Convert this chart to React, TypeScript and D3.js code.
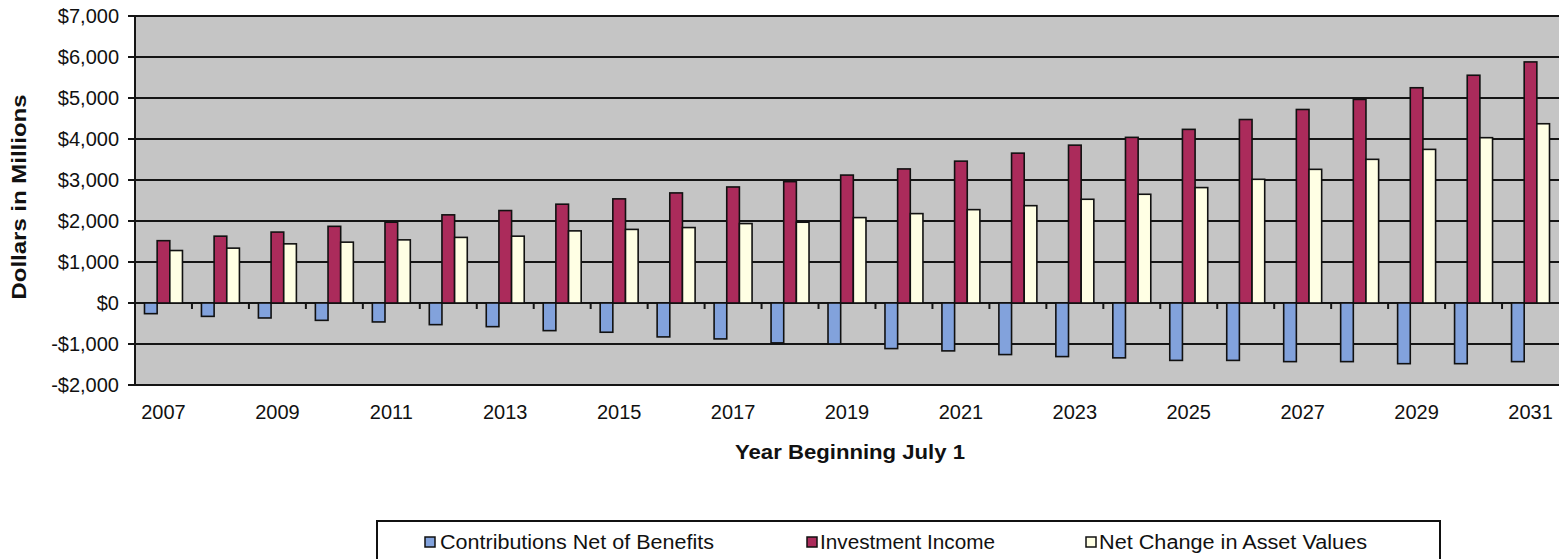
import React from "react";
import * as d3 from "d3";

const years: string[] = d3.range(2007, 2032).map(String);
const contributions: number[] = [-260, -326, -365, -423, -462, -528, -577, -674, -713, -827, -876, -973, -998, -1112, -1168, -1258, -1307, -1338, -1400, -1400, -1430, -1430, -1480, -1480, -1430];
const investment: number[] = [1520, 1630, 1730, 1870, 1970, 2150, 2255, 2410, 2540, 2685, 2830, 2960, 3120, 3270, 3460, 3655, 3850, 4040, 4235, 4475, 4720, 4965, 5250, 5555, 5880];
const netChange: number[] = [1280, 1338, 1443, 1484, 1540, 1600, 1630, 1759, 1795, 1840, 1937, 1970, 2083, 2180, 2277, 2374, 2530, 2652, 2815, 3017, 3260, 3504, 3747, 4032, 4372];
const seriesNames: string[] = ["Contributions Net of Benefits", "Investment Income", "Net Change in Asset Values"];
const seriesColors: string[] = ["#82a2dc", "#ab2b5b", "#ffffe4"];
const yTicks: number[] = [-2000, -1000, 0, 1000, 2000, 3000, 4000, 5000, 6000, 7000];
const xLabelYears: string[] = years.filter((_, i) => i % 2 === 0);

const W = 1561, H = 559;
const L = 135, R = 1559, T = 16, B = 385;

const fmt = (v: number) => (v < 0 ? "-$" : "$") + d3.format(",")(Math.abs(v));

export default function App() {
  const x = d3.scaleBand<string>().domain(years).range([L, R]).paddingInner(1 / 3).paddingOuter(1 / 6);
  const xs = d3.scaleBand<number>().domain([0, 1, 2]).range([0, x.bandwidth()]).padding(0);
  const y = d3.scaleLinear().domain([-2000, 7000]).range([B, T]);
  const series = [contributions, investment, netChange];
  const step = x.step();
  const font = "Arial, 'Liberation Sans', sans-serif";

  const legendItems = [
    { mx: 425, tx: 440, tw: 274 },
    { mx: 807, tx: 820, tw: 175 },
    { mx: 1086, tx: 1099, tw: 268 },
  ];

  return (
    <svg width={W} height={H} style={{ position: "absolute", left: 0, top: 0, background: "#fff" }} fontFamily={font}>
      <rect x={L} y={T} width={R - L} height={B - T} fill="#c5c5c5" />
      {yTicks.map((t) => (
        <line key={"g" + t} x1={L} x2={R} y1={y(t)} y2={y(t)} stroke="#151515" strokeWidth={2} />
      ))}
      {yTicks.map((t) => (
        <line key={"tk" + t} x1={L - 7} x2={L} y1={y(t)} y2={y(t)} stroke="#151515" strokeWidth={2} />
      ))}
      {years.slice(1).map((yr) => (
        <line key={"ct" + yr} x1={(x(yr) as number) - step / 6} x2={(x(yr) as number) - step / 6} y1={y(0)} y2={y(0) + 6} stroke="#151515" strokeWidth={2} />
      ))}
      {series.map((vals, si) =>
        vals.map((v, i) => {
          const bx = (x(years[i]) as number) + (xs(si) as number);
          const y0 = y(0), y1 = y(v);
          return (
            <rect key={si + "-" + i} x={bx} y={Math.min(y0, y1)} width={xs.bandwidth()} height={Math.abs(y1 - y0)}
              fill={seriesColors[si]} stroke="#111" strokeWidth={1.6} />
          );
        })
      )}
      <line x1={L} x2={L} y1={T} y2={B} stroke="#151515" strokeWidth={2} />
      {yTicks.map((t) => (
        <text key={"yl" + t} x={119} y={y(t)} dy="0.35em" textAnchor="end" fontSize={20} fill="#111">{fmt(t)}</text>
      ))}
      {xLabelYears.map((yr) => (
        <text key={"xl" + yr} x={(x(yr) as number) + x.bandwidth() / 2} y={412} dy="0.35em" textAnchor="middle" fontSize={20} fill="#111">{yr}</text>
      ))}
      <text x={850} y={452} dy="0.35em" textAnchor="middle" fontSize={20} fontWeight="bold" textLength={230} lengthAdjust="spacingAndGlyphs" fill="#111">Year Beginning July 1</text>
      <text transform={`translate(19,197) rotate(-90)`} dy="0.35em" textAnchor="middle" fontSize={20} fontWeight="bold" textLength={205} lengthAdjust="spacingAndGlyphs" fill="#111">Dollars in Millions</text>
      <rect x={377} y={521} width={1063} height={60} fill="#fff" stroke="#111" strokeWidth={2} />
      {seriesNames.map((n, i) => (
        <g key={n}>
          <rect x={legendItems[i].mx} y={537} width={10} height={10} fill={seriesColors[i]} stroke="#111" strokeWidth={1.5} />
          <text x={legendItems[i].tx} y={542} dy="0.35em" fontSize={20} textLength={legendItems[i].tw} lengthAdjust="spacingAndGlyphs" fill="#111">{n}</text>
        </g>
      ))}
    </svg>
  );
}
